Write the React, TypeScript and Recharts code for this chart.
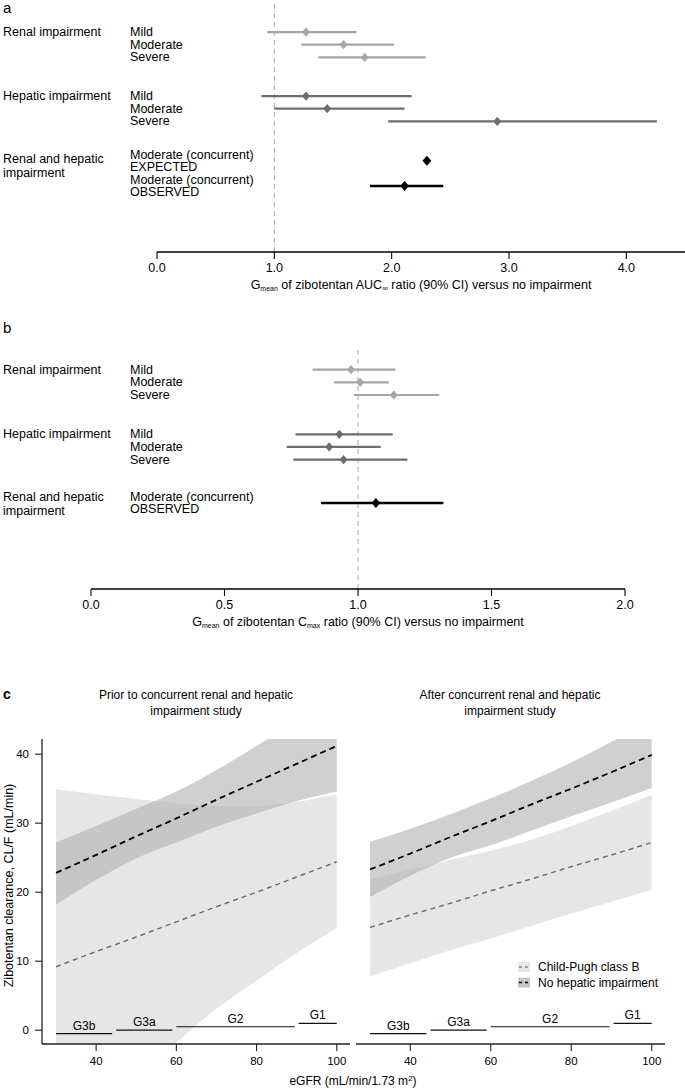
import React from 'react';
import {
  ScatterChart, ComposedChart, Scatter, ErrorBar, XAxis, YAxis, ReferenceLine,
  Area, Line, Legend, Label,
} from 'recharts';

const FONT = '"Liberation Sans", Arial, Helvetica, sans-serif';

// ---------- Panel a / b : forest plots ----------
const severity = ['Mild', 'Moderate', 'Severe'];
const groupNames = ['Renal impairment', 'Hepatic impairment', 'Renal and hepatic\nimpairment'];
const aucConcurrentLabels = ['Moderate (concurrent)\nEXPECTED', 'Moderate (concurrent)\nOBSERVED'];
const cmaxConcurrentLabels = ['Moderate (concurrent)\nOBSERVED'];

const aucRenalMean = [1.27, 1.59, 1.77];
const aucRenalLow = [0.94, 1.23, 1.375];
const aucRenalHigh = [1.7, 2.02, 2.29];
const aucHepaticMean = [1.27, 1.45, 2.9];
const aucHepaticLow = [0.89, 1.0, 1.97];
const aucHepaticHigh = [2.17, 2.11, 4.26];
const aucConcurrentMean = [2.3, 2.11];
const aucConcurrentLow = [2.3, 1.815];
const aucConcurrentHigh = [2.3, 2.44];
const aucTicks = [0, 1, 2, 3, 4];

const cmaxRenalMean = [0.974, 1.008, 1.134];
const cmaxRenalLow = [0.83, 0.91, 0.984];
const cmaxRenalHigh = [1.14, 1.115, 1.304];
const cmaxHepaticMean = [0.93, 0.892, 0.946];
const cmaxHepaticLow = [0.766, 0.733, 0.758];
const cmaxHepaticHigh = [1.13, 1.085, 1.185];
const cmaxConcurrentMean = [1.067];
const cmaxConcurrentLow = [0.862];
const cmaxConcurrentHigh = [1.32];
const cmaxTicks = [0, 0.5, 1, 1.5, 2];

// ---------- Panel c : clearance vs eGFR ----------
const egfr = [30, 40, 50, 60, 70, 80, 90, 100];
const priorNoLine = [22.8, 25.4, 28.1, 30.7, 33.4, 36.0, 38.6, 41.2];
const priorNoLow = [18.2, 21.8, 24.9, 27.2, 29.5, 31.4, 33.2, 34.6];
const priorNoHigh = [27.2, 29.6, 32.1, 34.6, 37.7, 41.2, 44.8, 48.3];
const priorCpLine = [9.2, 11.4, 13.5, 15.7, 17.9, 20.0, 22.2, 24.4];
const priorCpLow = [-20, -13.5, -7.5, -1.8, 3.1, 7.2, 11.2, 14.8];
const priorCpHigh = [34.9, 34.2, 33.5, 32.9, 32.5, 32.5, 33.1, 34.2];

const afterNoLine = [23.3, 25.6, 28.0, 30.3, 32.7, 35.0, 37.4, 39.9];
const afterNoLow = [19.3, 22.4, 25.0, 26.8, 28.9, 31.0, 33.0, 35.1];
const afterNoHigh = [27.3, 29.2, 31.3, 33.6, 36.1, 38.8, 41.8, 45.0];
const afterCpLine = [14.9, 16.7, 18.4, 20.2, 21.9, 23.7, 25.4, 27.2];
const afterCpLow = [7.8, 9.7, 11.6, 13.3, 15.1, 16.9, 18.6, 20.3];
const afterCpHigh = [21.9, 23.2, 24.7, 26.0, 27.6, 29.6, 31.8, 34.1];

const stageNames = ['G3b', 'G3a', 'G2', 'G1'];
const stageFrom = [30, 45, 60, 90.5];
const stageTo = [44, 59, 89.5, 100];
const stageLevel = [-0.5, 0, 0.5, 1.0];

const cTicksX = [40, 60, 80, 100];
const cTicksY = [0, 10, 20, 30, 40];
const legendNames = ['Child-Pugh class B', 'No hepatic impairment'];

// ---------- helpers ----------
const RENAL = '#a6a6a6';
const HEP = '#6d6d6d';
const COMB = '#000000';

type FRow = { x: number; y: number; err: number[]; label: string; group?: string };

function makeRows(labels: string[], mean: number[], low: number[], high: number[], start: number, step: number, group: string): FRow[] {
  return labels.map((lab, i) => ({
    x: mean[i],
    y: start + i * step,
    err: [mean[i] - low[i], high[i] - mean[i]],
    label: lab,
    group: i === 0 ? group : undefined,
  }));
}

const aucRenalRows = makeRows(severity, aucRenalMean, aucRenalLow, aucRenalHigh, 0, 1, groupNames[0]);
const aucHepRows = makeRows(severity, aucHepaticMean, aucHepaticLow, aucHepaticHigh, 5.05, 1, groupNames[1]);
const aucCombRows = makeRows(aucConcurrentLabels, aucConcurrentMean, aucConcurrentLow, aucConcurrentHigh, 10.15, 2, groupNames[2]);

const cmaxRenalRows = makeRows(severity, cmaxRenalMean, cmaxRenalLow, cmaxRenalHigh, 0, 1, groupNames[0]);
const cmaxHepRows = makeRows(severity, cmaxHepaticMean, cmaxHepaticLow, cmaxHepaticHigh, 5.1, 1, groupNames[1]);
const cmaxCombRows = makeRows(cmaxConcurrentLabels, cmaxConcurrentMean, cmaxConcurrentLow, cmaxConcurrentHigh, 10.52, 1, groupNames[2]);

const diamond = (color: string, hw: number, hh: number) => (p: any) => (
  <path
    d={`M${p.cx},${p.cy - hh}L${p.cx + hw},${p.cy}L${p.cx},${p.cy + hh}L${p.cx - hw},${p.cy}Z`}
    fill={color}
  />
);

const makeTick = (rows: FRow[], groupShift: number) => (props: any) => {
  const { y, payload } = props;
  const row = rows.find((r) => Math.abs(r.y - payload.value) < 1e-6);
  if (!row) return <g />;
  const lines = row.label.split('\n');
  const out: any[] = lines.map((t, i) => (
    <text key={'l' + i} x={130} y={y + (i - (lines.length - 1) / 2) * 12} dominantBaseline="central"
      fontSize={12.5} fill="#000" fontFamily={FONT}>{t}</text>
  ));
  if (row.group) {
    const g = row.group.split('\n');
    g.forEach((t, i) => out.push(
      <text key={'g' + i} x={3} y={y + (g.length > 1 ? groupShift : 0) + i * 14.5} dominantBaseline="central"
        fontSize={12.5} fill="#000" fontFamily={FONT}>{t}</text>,
    ));
  }
  return <g>{out}</g>;
};

type ForestProps = {
  top: number; height: number; margin: any; yWidth: number; xHeight: number;
  xDomain: number[]; xTicks: number[]; yDomain: number[];
  renal: FRow[]; hep: FRow[]; comb: FRow[]; groupShift: number; sub: string;
};

function Forest(p: ForestProps) {
  const all = [...p.renal, ...p.hep, ...p.comb];
  const series = [
    { data: p.renal, color: RENAL, lw: 2.2, hw: 4, hh: 4.6 },
    { data: p.hep, color: HEP, lw: 2.2, hw: 4, hh: 4.6 },
    { data: p.comb, color: COMB, lw: 2.6, hw: 4.4, hh: 5 },
  ];
  const axisLabel = (lp: any) => {
    const vb = lp.viewBox;
    return (
      <text x={vb.x + vb.width / 2} y={vb.y + 33} textAnchor="middle" dominantBaseline="central"
        fontSize={12.5} fill="#000" fontFamily={FONT}>
        G<tspan fontSize={7} dy={3}>mean</tspan>
        <tspan dy={-3}> of zibotentan {p.sub === 'inf' ? 'AUC' : 'C'}</tspan>
        <tspan fontSize={p.sub === 'inf' ? 8 : 7} dy={3}>{p.sub === 'inf' ? '∞' : 'max'}</tspan>
        <tspan dy={-3}> ratio (90% CI) versus no impairment</tspan>
      </text>
    );
  };
  return (
    <div style={{ position: 'absolute', left: 0, top: p.top }}>
      <ScatterChart width={685} height={p.height} margin={p.margin}>
        <XAxis type="number" dataKey="x" domain={p.xDomain} allowDataOverflow ticks={p.xTicks}
          tickFormatter={(v: number) => v.toFixed(1)} height={p.xHeight} tickSize={7} tickMargin={4}
          axisLine={{ stroke: '#000', strokeWidth: 1.3 }} tickLine={{ stroke: '#000', strokeWidth: 1.1 }}
          tick={{ fill: '#000', fontSize: 12.5, fontFamily: FONT }} interval={0}>
          <Label content={axisLabel} />
        </XAxis>
        <YAxis type="number" dataKey="y" reversed domain={p.yDomain} allowDataOverflow
          ticks={all.map((r) => r.y)} interval={0} width={p.yWidth} axisLine={false} tickLine={false}
          tick={makeTick(all, p.groupShift)} />
        <ReferenceLine x={1} stroke="#b5b5b5" strokeWidth={1.2} strokeDasharray="5 4" ifOverflow="visible" />
        {series.map((s, i) => (
          <Scatter key={i} data={s.data} fill={s.color} shape={diamond(s.color, s.hw, s.hh)} isAnimationActive={false}>
            <ErrorBar dataKey="err" direction="x" width={0} stroke={s.color} strokeWidth={s.lw} />
          </Scatter>
        ))}
      </ScatterChart>
    </div>
  );
}

function buildC(noLine: number[], noLow: number[], noHigh: number[], cpLine: number[], cpLow: number[], cpHigh: number[]) {
  return egfr.map((e, i) => ({
    egfr: e,
    noLine: noLine[i],
    noBand: [noLow[i], noHigh[i]],
    cpLine: cpLine[i],
    cpBand: [cpLow[i], cpHigh[i]],
  }));
}

const priorData = buildC(priorNoLine, priorNoLow, priorNoHigh, priorCpLine, priorCpLow, priorCpHigh);
const afterData = buildC(afterNoLine, afterNoLow, afterNoHigh, afterCpLine, afterCpLow, afterCpHigh);

const LIGHT = '#e6e6e6';
const DARK = '#b0b0b0';
const DARK_OP = 0.6;

const legendContent = () => (
  <svg width={170} height={36} style={{ display: 'block' }}>
    {legendNames.map((n, i) => {
      const cy = 9 + i * 15.5;
      return (
        <g key={n}>
          <rect x={4} y={cy - 5} width={12} height={10} fill={i === 0 ? LIGHT : '#c6c6c6'} />
          <line x1={5} x2={15} y1={cy} y2={cy} stroke={i === 0 ? '#888' : '#000'} strokeWidth={1.4} strokeDasharray="3 3" />
          <text x={24} y={cy} dominantBaseline="central" fontSize={12} fill="#000" fontFamily={FONT}>{n}</text>
        </g>
      );
    })}
  </svg>
);

function Clearance(props: { data: any[]; left: number; right: number; showY: boolean; legend: boolean }) {
  const yLabel = (lp: any) => {
    const vb = lp.viewBox;
    const cx = 9;
    const cy = vb.y + vb.height / 2 - 6;
    return (
      <text x={cx} y={cy} transform={`rotate(-90 ${cx} ${cy})`} textAnchor="middle" dominantBaseline="central"
        fontSize={12.5} fill="#000" fontFamily={FONT}>Zibotentan clearance, CL/F (mL/min)</text>
    );
  };
  return (
    <div style={{ position: 'absolute', left: 0, top: 680 }}>
      <ComposedChart width={685} height={394} data={props.data}
        margin={{ top: 59, right: props.right, bottom: 0, left: props.left }}>
        <XAxis type="number" dataKey="egfr" domain={[26.5, 103.3]} allowDataOverflow ticks={cTicksX} interval={0}
          height={30} tickSize={7} tickMargin={6}
          axisLine={{ stroke: '#222', strokeWidth: 1.3 }} tickLine={{ stroke: '#222', strokeWidth: 1.1 }}
          tick={{ fill: '#000', fontSize: 11.5, fontFamily: FONT }} />
        <YAxis type="number" domain={[-2, 42.2]} allowDataOverflow ticks={cTicksY} interval={0}
          hide={!props.showY} width={42} tickSize={7} tickMargin={6}
          axisLine={{ stroke: '#222', strokeWidth: 1.3 }} tickLine={{ stroke: '#222', strokeWidth: 1.1 }}
          tick={{ fill: '#000', fontSize: 11.5, fontFamily: FONT }}>
          {props.showY ? <Label content={yLabel} /> : null}
        </YAxis>
        <Area type="monotone" dataKey="cpBand" fill={LIGHT} fillOpacity={1} stroke="none" isAnimationActive={false} />
        <Area type="monotone" dataKey="noBand" fill={DARK} fillOpacity={DARK_OP} stroke="none" isAnimationActive={false} />
        <Line type="monotone" dataKey="cpLine" stroke="#707070" strokeWidth={1.5} strokeDasharray="5 4" dot={false} isAnimationActive={false} />
        <Line type="monotone" dataKey="noLine" stroke="#000" strokeWidth={1.8} strokeDasharray="6 4" dot={false} isAnimationActive={false} />
        {stageNames.map((s, i) => (
          <ReferenceLine key={s} segment={[{ x: stageFrom[i], y: stageLevel[i] }, { x: stageTo[i], y: stageLevel[i] }]}
            stroke="#111" strokeWidth={1.2}
            label={{ value: s, position: 'top', offset: 4, fill: '#000', fontSize: 12, fontFamily: FONT }} />
        ))}
        {props.legend ? (
          <Legend layout="vertical" align="center" verticalAlign="middle" content={legendContent}
            wrapperStyle={{ left: 514, top: 278, width: 170 }} />
        ) : null}
      </ComposedChart>
    </div>
  );
}

export default function App() {
  return (
    <div style={{ position: 'absolute', left: 0, top: 0, width: 685, height: 1090, background: '#fff', fontFamily: FONT }}>
      <Forest top={0} height={300} margin={{ top: 0, right: 0, bottom: 0, left: 0 }} yWidth={157} xHeight={48}
        xDomain={[0, 4.5]} xTicks={aucTicks} yDomain={[-2.53, 17.36]}
        renal={aucRenalRows} hep={aucHepRows} comb={aucCombRows} groupShift={-2} sub="inf" />
      <Forest top={300} height={340} margin={{ top: 47, right: 60, bottom: 0, left: 0 }} yWidth={91} xHeight={51}
        xDomain={[0, 2]} xTicks={cmaxTicks} yDomain={[-1.79, 17.31]}
        renal={cmaxRenalRows} hep={cmaxHepRows} comb={cmaxCombRows} groupShift={-6} sub="max" />
      <Clearance data={priorData} left={0} right={335} showY legend={false} />
      <Clearance data={afterData} left={356} right={20} showY={false} legend />
      <svg width={685} height={1090} style={{ position: 'absolute', left: 0, top: 0, pointerEvents: 'none' }}>
        <g fontFamily={FONT} fill="#000">
          <text x={3} y={13} fontSize={15}>a</text>
          <text x={3} y={333} fontSize={15}>b</text>
          <text x={3} y={699} fontSize={14} fontWeight="bold">c</text>
          <text x={196} y={699} fontSize={12} textAnchor="middle">Prior to concurrent renal and hepatic</text>
          <text x={196} y={715} fontSize={12} textAnchor="middle">impairment study</text>
          <text x={510} y={699} fontSize={12} textAnchor="middle">After concurrent renal and hepatic</text>
          <text x={510} y={715} fontSize={12} textAnchor="middle">impairment study</text>
          <text x={353} y={1085} fontSize={12} textAnchor="middle">
            eGFR (mL/min/1.73 m<tspan fontSize={8} dy={-4}>2</tspan><tspan dy={4}>)</tspan>
          </text>
        </g>
      </svg>
    </div>
  );
}
